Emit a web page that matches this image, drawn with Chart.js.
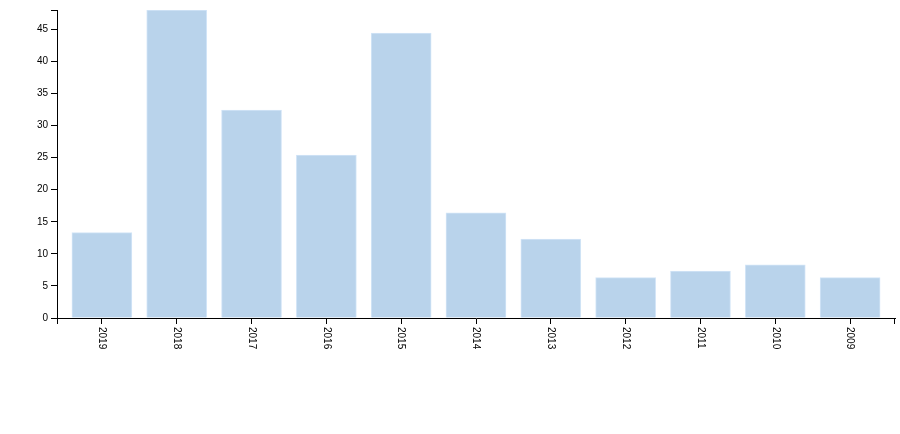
<!DOCTYPE html>
<html>
<head>
<meta charset="utf-8">
<script src="https://cdn.jsdelivr.net/npm/chart.js@4/dist/chart.umd.min.js"></script>
<style>
  html, body { margin: 0; padding: 0; background: #fff; }
  #wrap { width: 900px; height: 434px; position: relative; }
</style>
</head>
<body>
<div id="wrap"><canvas id="yearChart"></canvas></div>
<script>
const years = ['2019', '2018', '2017', '2016', '2015', '2014', '2013', '2012', '2011', '2010', '2009'];
const counts = [13.3, 48, 32.4, 25.4, 44.4, 16.4, 12.3, 6.3, 7.3, 8.3, 6.3];
const yTicks = [0, 5, 10, 15, 20, 25, 30, 35, 40, 45];
const yMax = 48;

const FONT = 'Liberation Sans, Arial, sans-serif';

// year labels read top-to-bottom (rotated clockwise), plus the outer axis ticks
const axisExtras = {
  id: 'axisExtras',
  afterDraw(chart) {
    const ctx = chart.ctx;
    const area = chart.chartArea;
    const x = chart.scales.x;
    ctx.save();
    ctx.strokeStyle = '#000';
    ctx.lineWidth = 1;
    ctx.beginPath();
    ctx.moveTo(area.left - 6, area.top + 0.5);
    ctx.lineTo(area.left, area.top + 0.5);
    ctx.moveTo(area.left + 0.5, area.bottom);
    ctx.lineTo(area.left + 0.5, area.bottom + 6);
    ctx.moveTo(area.right - 0.5, area.bottom);
    ctx.lineTo(area.right - 0.5, area.bottom + 6);
    ctx.stroke();

    ctx.fillStyle = '#000';
    ctx.font = '10px ' + FONT;
    ctx.textAlign = 'left';
    ctx.textBaseline = 'middle';
    years.forEach((label, i) => {
      const px = x.getPixelForValue(i);
      ctx.save();
      ctx.translate(px, area.bottom + 9);
      ctx.rotate(Math.PI / 2);
      ctx.fillText(label, 0, 0);
      ctx.restore();
    });
    ctx.restore();
  }
};

const ctx = document.getElementById('yearChart').getContext('2d');
new Chart(ctx, {
  type: 'bar',
  data: {
    datasets: [{
      data: counts.map((v, i) => ({ x: i, y: v })),
      backgroundColor: '#b9d3eb',
      borderColor: '#d3e5f7',
      borderWidth: 1,
      barThickness: 60
    }]
  },
  options: {
    responsive: true,
    maintainAspectRatio: false,
    animation: false,
    layout: { padding: { top: 10, right: 5, left: 0, bottom: 0 } },
    plugins: {
      legend: { display: false },
      tooltip: { enabled: false }
    },
    scales: {
      x: {
        type: 'linear',
        min: -0.6,
        max: 10.6,
        offset: false,
        afterBuildTicks: scale => {
          scale.ticks = years.map((_, i) => ({ value: i }));
        },
        afterFit: scale => { scale.height = 116; },
        ticks: { display: false },
        grid: {
          offset: false,
          drawOnChartArea: false,
          drawTicks: true,
          tickLength: 6,
          color: '#000'
        },
        border: { display: true, color: '#000', width: 1 }
      },
      y: {
        min: 0,
        max: yMax,
        afterBuildTicks: scale => {
          scale.ticks = yTicks.map(v => ({ value: v }));
        },
        afterFit: scale => { scale.width = 57; },
        ticks: {
          padding: 3,
          color: '#000',
          font: { family: FONT, size: 10 }
        },
        grid: {
          drawOnChartArea: false,
          drawTicks: true,
          tickLength: 6,
          color: '#000'
        },
        border: { display: true, color: '#000', width: 1 }
      }
    }
  },
  plugins: [axisExtras]
});
</script>
</body>
</html>
